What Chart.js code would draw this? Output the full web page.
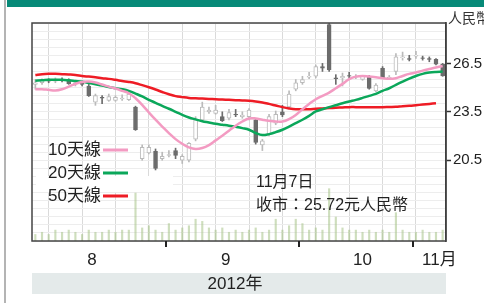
<!DOCTYPE html>
<html>
<head>
<meta charset="utf-8">
<script src="https://cdn.jsdelivr.net/npm/chart.js@4.4.1/dist/chart.umd.min.js"></script>
<style>
html,body{margin:0;padding:0;background:#fff}
</style>
</head>
<body>
<canvas id="c" width="484" height="303"></canvas>
<script>
// trading days 6 Aug - 7 Nov 2012, index 0..61
const MONTHS = ['8','9','10','11月'];
const MONTH_START = [0, 20, 40, 57];      // first trading day of each month
const MONTH_LABEL_AT = [8.5, 28.5, 49, 60.5];
const YEAR = '2012年';
const PRICE_TICKS = [20.5, 23.5, 26.5];
const UNIT = '人民幣';
const NOTE = ['11月7日', '收市：25.72元人民幣'];

const MA10 = [24.90,24.90,24.86,24.82,24.90,25.06,25.23,25.35,25.37,25.31,
  25.19,25.06,24.94,24.80,24.65,24.34,23.93,23.46,23.01,22.59,
  22.18,21.81,21.52,21.30,21.20,21.26,21.44,21.73,22.02,22.33,
  22.64,22.90,23.09,23.09,23.01,22.94,22.90,22.90,23.05,23.31,
  23.66,23.99,24.28,24.49,24.69,24.96,25.23,25.52,25.68,25.72,
  25.68,25.64,25.58,25.54,25.58,25.72,25.85,25.93,26.05,26.15,
  26.24,26.34];
const MA20 = [25.43,25.45,25.48,25.48,25.48,25.45,25.41,25.37,25.29,25.21,
  25.13,25.04,24.96,24.90,24.80,24.63,24.45,24.24,24.06,23.87,
  23.69,23.50,23.31,23.15,23.03,22.92,22.84,22.76,22.70,22.64,
  22.57,22.49,22.39,22.19,22.06,22.12,22.24,22.39,22.59,22.80,
  23.01,23.25,23.52,23.66,23.79,23.91,24.03,24.14,24.24,24.36,
  24.49,24.61,24.80,24.96,25.17,25.37,25.56,25.72,25.85,25.93,
  25.97,25.99];
const MA50 = [25.78,25.83,25.85,25.85,25.83,25.81,25.78,25.72,25.68,25.64,
  25.58,25.54,25.48,25.41,25.35,25.27,25.15,25.02,24.88,24.73,
  24.59,24.47,24.41,24.36,24.34,24.32,24.30,24.28,24.26,24.24,
  24.22,24.20,24.18,24.14,24.08,23.99,23.89,23.79,23.71,23.66,
  23.66,23.66,23.69,23.71,23.73,23.75,23.77,23.79,23.79,23.79,
  23.79,23.79,23.79,23.80,23.81,23.85,23.87,23.91,23.95,23.99,
  24.03,null];

const OPEN = [25.2,25.3,25.45,25.4,25.5,25.48,25.25,25.3,25.1,24.1,
  24.4,24.2,24.2,24.3,24.25,23.8,20.6,20.95,21.05,20.6,
  20.8,21.1,20.5,20.5,21.8,23.0,23.5,23.4,23.2,23.1,
  23.35,23.2,23.2,23.0,21.45,22.1,22.8,23.5,23.8,24.9,
  25.3,25.65,25.7,26.3,28.9,25.6,25.6,25.75,25.65,25.5,
  25.7,24.8,26.2,25.6,26.0,26.85,26.8,26.95,26.85,26.8,
  26.75,26.45];
const HIGH = [25.5,25.55,25.55,25.6,25.6,25.55,25.4,25.4,25.2,24.6,
  24.5,24.6,24.5,24.55,24.75,23.85,21.45,21.45,21.2,21.0,
  21.1,21.25,20.85,21.6,23.2,24.1,23.8,23.9,23.5,23.65,
  23.65,23.5,23.7,23.1,21.8,23.35,23.55,23.9,24.8,25.5,
  25.7,25.95,26.4,26.5,29.0,25.8,25.9,25.95,25.8,25.75,
  25.75,25.25,26.3,25.75,27.1,27.2,27.0,27.25,26.95,26.9,
  26.8,26.5];
const LOW = [24.9,25.2,25.3,25.3,25.35,25.2,25.1,25.1,24.45,23.9,
  24.0,24.15,24.15,24.2,24.2,22.35,20.5,20.9,19.9,20.5,
  20.7,20.6,20.3,20.4,21.7,22.9,23.4,23.35,22.9,23.0,
  23.2,23.1,23.0,21.5,21.1,22.0,22.7,23.2,23.7,24.8,
  25.2,25.55,25.6,26.0,26.0,25.2,25.1,25.6,25.55,25.45,
  24.9,24.75,25.55,25.5,25.8,26.7,26.65,26.8,26.7,26.6,
  26.4,25.7];
const CLOSE = [25.3,25.45,25.4,25.5,25.45,25.25,25.3,25.2,24.5,24.5,
  24.35,24.45,24.4,24.35,24.6,22.4,21.3,21.3,20.0,20.75,
  20.85,20.8,20.75,21.55,23.0,23.8,23.6,23.6,22.95,23.45,
  23.3,23.3,23.6,21.6,21.7,23.2,23.35,23.3,24.6,25.3,
  25.5,25.7,26.3,26.2,26.1,25.55,25.7,25.7,25.7,25.7,
  24.95,25.15,25.6,25.65,26.9,26.9,26.75,27.0,26.8,26.75,
  26.45,25.72];
const VOLUME = [3,4,3,5,4,5,4,3,5,4,
  4,5,4,5,5,22,6,7,5,4,
  8,5,6,7,10,9,6,5,6,4,
  5,4,5,6,4,5,10,5,7,10,
  8,5,6,5,24,11,6,5,5,4,
  5,4,5,4,13,5,4,4,5,4,
  4,5];

const FONT = "'Liberation Sans Narrow','Liberation Sans','Noto Sans CJK TC',sans-serif";
const UP = '#ffffff', DOWN = '#6c6c6c', EDGE = '#bababa';
const isDown = i => CLOSE[i] < OPEN[i];

const xy = arr => arr.map((y, i) => ({x: i, y}));

const decor = {
  id: 'decor',
  beforeDraw(chart) {
    const {ctx, width, height} = chart;
    ctx.save();
    ctx.fillStyle = '#fff';
    ctx.fillRect(0, 0, width, height);
    ctx.fillStyle = '#078a78';
    ctx.fillRect(7, 0, width - 7, 7);
    ctx.fillStyle = '#b4b4b4';
    ctx.fillRect(4, 0, 2, height);
    ctx.fillStyle = '#333';
    ctx.font = '14px ' + FONT;
    ctx.textBaseline = 'middle';
    ctx.fillText(UNIT, 448, 19);
    ctx.restore();
  },
  afterDatasetsDraw(chart) {
    const {ctx, chartArea: a, scales: {x}} = chart;
    ctx.save();
    // white patch behind the legend
    ctx.fillStyle = '#fff';
    ctx.fillRect(36, 176, 137, 16);
    // frame
    ctx.strokeStyle = '#444';
    ctx.lineWidth = 1.5;
    ctx.strokeRect(a.left, a.top, a.right - a.left, a.bottom - a.top);

    // legend
    ctx.textBaseline = 'middle';
    ctx.textAlign = 'left';
    ctx.font = '17px ' + FONT;
    chart.data.datasets.filter(d => d.type === 'line').forEach((d, k) => {
      const y = 150 + 23 * k;
      ctx.fillStyle = '#222';
      ctx.fillText(d.label, 48, y);
      ctx.strokeStyle = d.borderColor;
      ctx.lineWidth = 3;
      ctx.beginPath();
      ctx.moveTo(103, y);
      ctx.lineTo(128, y);
      ctx.stroke();
    });

    // closing note
    ctx.font = '16px ' + FONT;
    ctx.fillStyle = '#222';
    ctx.fillText(NOTE[0], 256, 183);
    ctx.fillText(NOTE[1], 256, 206);

    // month ticks and labels
    ctx.strokeStyle = '#222';
    ctx.lineWidth = 2;
    MONTH_START.slice(1).forEach(s => {
      const px = Math.round(x.getPixelForValue(s - 0.5));
      ctx.beginPath();
      ctx.moveTo(px, a.bottom);
      ctx.lineTo(px, a.bottom + 6);
      ctx.stroke();
    });
    ctx.font = '17px ' + FONT;
    ctx.textAlign = 'center';
    MONTHS.forEach((m, i) => ctx.fillText(m, x.getPixelForValue(MONTH_LABEL_AT[i]), 260));

    // year band
    ctx.fillStyle = '#e4eaea';
    ctx.fillRect(a.left, 273, a.right - a.left, 21);
    ctx.fillStyle = '#222';
    ctx.fillText(YEAR, (a.left + a.right) / 2 - 4, 284);
    ctx.restore();
  }
};

new Chart(document.getElementById('c'), {
  type: 'bar',
  data: {
    datasets: [
      {type: 'line', label: '10天線', data: xy(MA10), borderColor: '#f39bc2', borderWidth: 2.5,
       pointRadius: 0, tension: 0.4, order: 0},
      {type: 'line', label: '20天線', data: xy(MA20), borderColor: '#0ba75a', borderWidth: 2.5,
       pointRadius: 0, tension: 0.4, order: 0},
      {type: 'line', label: '50天線', data: xy(MA50), borderColor: '#ee1c25', borderWidth: 2.5,
       pointRadius: 0, tension: 0.4, order: 0},
      {label: 'body', data: OPEN.map((o, i) => ({x: i, y: [o, CLOSE[i]]})),
       backgroundColor: c => isDown(c.dataIndex) ? DOWN : UP,
       borderColor: c => isDown(c.dataIndex) ? DOWN : EDGE,
       borderWidth: 1, borderSkipped: false, barThickness: 4, grouped: false, order: 1},
      {label: 'wick', data: LOW.map((l, i) => ({x: i, y: [l, HIGH[i]]})),
       backgroundColor: c => isDown(c.dataIndex) ? DOWN : EDGE,
       barThickness: 1, grouped: false, order: 2},
      {label: 'volume', data: xy(VOLUME), yAxisID: 'v',
       backgroundColor: 'rgba(165,195,135,0.55)', barThickness: 1.5, grouped: false, order: 3}
    ]
  },
  options: {
    responsive: false,
    animation: false,
    layout: {padding: {left: 32, top: 23, right: 0, bottom: 62}},
    plugins: {legend: {display: false}, tooltip: {enabled: false}},
    scales: {
      x: {
        type: 'linear', min: -0.5, max: 61.5, offset: false,
        afterBuildTicks: s => {
          const t = [];
          for (let v = 4.5; v < 61.5; v += 5) t.push({value: v});
          s.ticks = t;
        },
        afterFit: s => { s.height = 0; },
        ticks: {display: false},
        grid: {color: '#dadada', drawTicks: false},
        border: {display: false}
      },
      y: {
        position: 'right', min: 15.5, max: 29,
        afterBuildTicks: s => {
          const t = [];
          for (let v = 15.5; v <= 29; v += 0.5) t.push({value: v});
          s.ticks = t;
        },
        afterFit: s => { s.width = 38; },
        ticks: {
          autoSkip: false, padding: 2, color: '#222',
          font: {size: 15, family: FONT},
          callback: v => PRICE_TICKS.includes(v) ? v.toFixed(1) : ''
        },
        grid: {
          color: '#ededed', tickLength: 5, tickWidth: 1.5,
          tickColor: c => PRICE_TICKS.includes(c.tick.value) ? '#333' : 'rgba(0,0,0,0)'
        },
        border: {color: '#333', width: 1.5}
      },
      v: {display: false, min: 0, max: 100}
    }
  },
  plugins: [decor]
});
</script>
</body>
</html>
